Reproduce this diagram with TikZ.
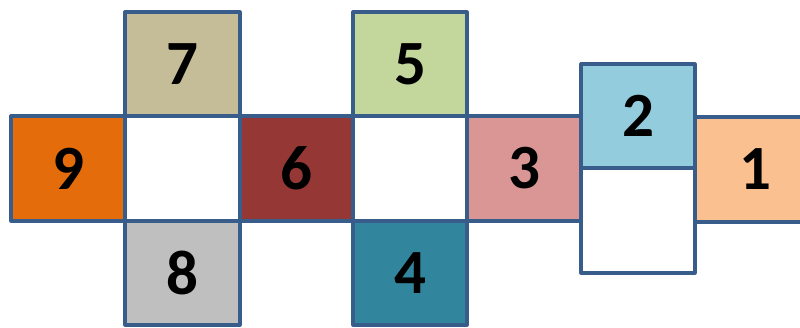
\documentclass[tikz,border=0pt]{standalone}
\usepackage{fontspec}
\setmainfont{Carlito}
\definecolor{bordc}{RGB}{56,93,138}
\definecolor{c9}{RGB}{228,108,10}
\definecolor{c7}{RGB}{196,189,151}
\definecolor{c6}{RGB}{149,55,53}
\definecolor{c5}{RGB}{195,214,155}
\definecolor{c3}{RGB}{217,150,148}
\definecolor{c2}{RGB}{147,205,221}
\definecolor{c1}{RGB}{250,192,144}
\definecolor{c8}{RGB}{191,191,191}
\definecolor{c4}{RGB}{49,133,156}
\begin{document}
\begin{tikzpicture}[x=1pt,y=1pt,
  cell/.style={draw=bordc, line width=3.2pt, line join=round, inner sep=0pt, outer sep=0pt,
    minimum width=114pt, minimum height=105pt,
    font=\fontsize{63}{63}\selectfont\bfseries, text=black}]
\useasboundingbox (0,0) rectangle (800,327);
\begin{scope}
\clip (0,0) rectangle (800,327);
\node[cell, fill=c9] (n9) at (68,158.5) {9};
\node[cell, fill=white, minimum width=115pt] (wa) at (182.5,158.5) {};
\node[cell, fill=c6, minimum width=113pt] (n6) at (296.5,158.5) {6};
\node[cell, fill=white] (wb) at (410,158.5) {};
\node[cell, fill=c3] (n3) at (524,158.5) {3};
\node[cell, fill=c1, minimum width=120pt] (n1) at (755,157.5) {1};
\node[cell, fill=c2, minimum height=104pt] (n2) at (638,211) {2};
\node[cell, fill=white] (wc) at (638,106.5) {};
\node[cell, fill=c7, minimum width=115pt, minimum height=104pt] (n7) at (182.5,263) {7};
\node[cell, fill=c8, minimum width=115pt, minimum height=104pt] (n8) at (182.5,54) {8};
\node[cell, fill=c5, minimum height=104pt] (n5) at (410,263) {5};
\node[cell, fill=c4, minimum height=104pt] (n4) at (410,54) {4};
\end{scope}
\end{tikzpicture}
\end{document}
